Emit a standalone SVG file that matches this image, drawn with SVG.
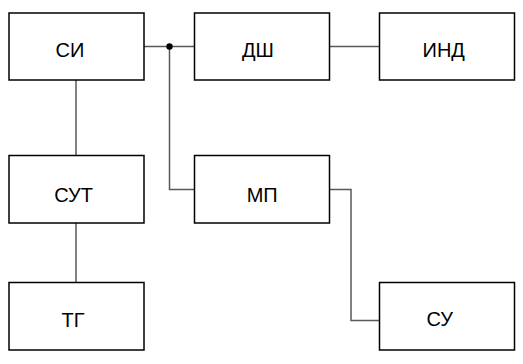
<svg xmlns="http://www.w3.org/2000/svg" width="523" height="364" viewBox="0 0 523 364">
<style>
.box{fill:#fff;stroke:#000;stroke-width:1.5}
.lbl{font-family:"Liberation Sans",Arial,sans-serif;font-size:20px;fill:#000;text-anchor:middle}
.wire{fill:none;stroke:#595959;stroke-width:1.5}
</style>
<rect width="523" height="364" fill="#fff"/>
<g id="connectors">
<polyline class="wire" points="144,46.5 194,46.5"/>
<polyline class="wire" points="330,46.5 379,46.5"/>
<polyline class="wire" points="169.5,46.5 169.5,189.5 194,189.5"/>
<polyline class="wire" points="76,80 76,155"/>
<polyline class="wire" points="76,223 76,282"/>
<polyline class="wire" points="330,189.5 351,189.5 351,320.5 379,320.5"/>
<circle cx="169.5" cy="46.5" r="3.2" fill="#000"/>
</g>
<g id="SI"><rect class="box" x="9" y="13" width="135" height="67"/><text class="lbl" x="70" y="57.3">СИ</text></g>
<g id="DSh"><rect class="box" x="194.5" y="13" width="135" height="67"/><text class="lbl" x="258" y="57.3">ДШ</text></g>
<g id="IND"><rect class="box" x="379.5" y="13" width="135" height="67"/><text class="lbl" x="443.7" y="57.3">ИНД</text></g>
<g id="SUT"><rect class="box" x="9" y="155.5" width="135" height="67.5"/><text class="lbl" x="73.7" y="202.3">СУТ</text></g>
<g id="MP"><rect class="box" x="194.5" y="155.5" width="135" height="67.5"/><text class="lbl" x="262.2" y="202.3">МП</text></g>
<g id="TG"><rect class="box" x="9" y="282.5" width="135" height="67.5"/><text class="lbl" x="73" y="326.7">ТГ</text></g>
<g id="SU"><rect class="box" x="379.5" y="282.5" width="135" height="67.5"/><text class="lbl" x="439.7" y="326.3">СУ</text></g>
</svg>
